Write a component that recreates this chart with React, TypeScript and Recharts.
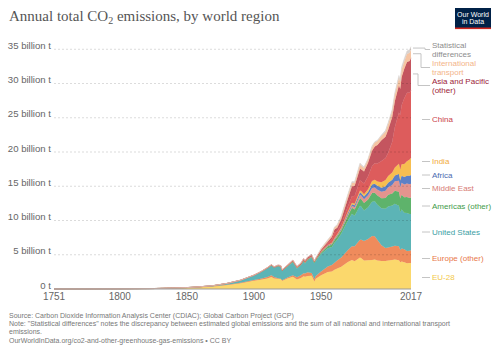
import React from 'react';
import { AreaChart, Area, XAxis, YAxis, ReferenceLine } from 'recharts';

// ---------- data (billion tonnes CO2) ----------
const years = [
  1751, 1775, 1800, 1825, 1850, 1860, 1870, 1880, 1890, 1900,
  1905, 1910, 1913, 1915, 1918, 1920, 1921, 1925, 1929, 1932,
  1935, 1937, 1938, 1940, 1943, 1945, 1946, 1950, 1955, 1958,
  1960, 1962, 1965, 1970, 1973, 1975, 1979, 1980, 1982, 1985,
  1988, 1990, 1992, 1995, 1998, 2000, 2003, 2005, 2008, 2009,
  2010, 2012, 2014, 2016, 2017,
];

const eu28 = [
  0.009, 0.015, 0.03, 0.06, 0.18, 0.28, 0.4, 0.6, 0.85, 1.2,
  1.35, 1.55, 1.75, 1.55, 1.5, 1.45, 1.2, 1.55, 1.8, 1.4,
  1.6, 1.85, 1.8, 1.9, 1.95, 1.1, 1.5, 2.0, 2.5, 2.55,
  2.8, 3.0, 3.25, 3.95, 4.25, 4.05, 4.6, 4.5, 4.15, 4.2,
  4.25, 4.3, 4.15, 4.1, 4.1, 4.15, 4.25, 4.3, 4.2, 3.9,
  4.0, 3.9, 3.75, 3.8, 3.8,
];

const europeOther = [
  0, 0, 0.001, 0.002, 0.005, 0.008, 0.015, 0.03, 0.06, 0.12,
  0.15, 0.2, 0.25, 0.2, 0.08, 0.06, 0.06, 0.12, 0.22, 0.3,
  0.4, 0.45, 0.48, 0.55, 0.4, 0.35, 0.4, 0.55, 0.8, 0.95,
  1.05, 1.15, 1.35, 1.75, 2.0, 2.2, 2.6, 2.7, 2.85, 3.1,
  3.5, 3.4, 3.0, 2.3, 1.9, 1.9, 1.95, 2.0, 2.05, 1.8,
  1.9, 1.9, 1.8, 1.8, 1.85,
];

const unitedStates = [
  0, 0.0001, 0.0003, 0.002, 0.02, 0.04, 0.08, 0.18, 0.35, 0.66,
  0.95, 1.25, 1.4, 1.35, 1.75, 1.7, 1.35, 1.6, 1.9, 1.3,
  1.45, 1.75, 1.45, 1.75, 2.2, 2.3, 2.2, 2.55, 2.65, 2.65,
  2.9, 3.05, 3.45, 4.3, 4.75, 4.45, 4.95, 4.8, 4.45, 4.65,
  5.0, 5.1, 5.15, 5.4, 5.7, 6.0, 6.0, 6.13, 5.9, 5.5,
  5.7, 5.35, 5.55, 5.35, 5.3,
];

const americasOther = [
  0, 0, 0, 0, 0.001, 0.002, 0.003, 0.006, 0.012, 0.02,
  0.03, 0.05, 0.06, 0.05, 0.055, 0.07, 0.06, 0.08, 0.11, 0.09,
  0.1, 0.12, 0.12, 0.13, 0.14, 0.16, 0.18, 0.23, 0.3, 0.35,
  0.4, 0.45, 0.5, 0.7, 0.85, 0.9, 1.1, 1.1, 1.1, 1.1,
  1.25, 1.25, 1.35, 1.45, 1.6, 1.7, 1.75, 1.9, 2.05, 2.0,
  2.15, 2.25, 2.35, 2.35, 2.4,
];

const middleEast = [
  0, 0, 0, 0, 0, 0, 0, 0, 0, 0,
  0, 0.001, 0.001, 0.002, 0.002, 0.003, 0.003, 0.004, 0.006, 0.007,
  0.008, 0.01, 0.01, 0.01, 0.012, 0.015, 0.017, 0.03, 0.05, 0.07,
  0.08, 0.1, 0.12, 0.22, 0.3, 0.35, 0.5, 0.5, 0.55, 0.65,
  0.75, 0.78, 0.85, 0.95, 1.05, 1.1, 1.25, 1.4, 1.6, 1.65,
  1.75, 1.85, 1.95, 2.0, 2.0,
];

const africa = [
  0, 0, 0, 0, 0, 0, 0.001, 0.001, 0.002, 0.004,
  0.006, 0.01, 0.012, 0.012, 0.013, 0.015, 0.014, 0.017, 0.02, 0.018,
  0.022, 0.025, 0.025, 0.028, 0.03, 0.035, 0.038, 0.05, 0.07, 0.085,
  0.1, 0.11, 0.14, 0.2, 0.24, 0.26, 0.36, 0.38, 0.42, 0.45,
  0.5, 0.55, 0.56, 0.6, 0.65, 0.68, 0.76, 0.85, 0.98, 1.0,
  1.05, 1.1, 1.15, 1.25, 1.3,
];

const india = [
  0, 0, 0, 0, 0, 0, 0.002, 0.004, 0.006, 0.01,
  0.013, 0.02, 0.023, 0.024, 0.026, 0.028, 0.027, 0.03, 0.032, 0.03,
  0.031, 0.033, 0.034, 0.036, 0.038, 0.035, 0.036, 0.05, 0.06, 0.08,
  0.11, 0.13, 0.15, 0.18, 0.2, 0.23, 0.28, 0.29, 0.33, 0.42,
  0.5, 0.57, 0.65, 0.8, 0.92, 0.97, 1.05, 1.17, 1.5, 1.6,
  1.67, 1.9, 2.1, 2.35, 2.5,
];

const china = [
  0, 0, 0, 0, 0, 0, 0, 0, 0, 0.001,
  0.002, 0.005, 0.007, 0.008, 0.009, 0.01, 0.01, 0.014, 0.02, 0.025,
  0.03, 0.04, 0.045, 0.06, 0.05, 0.03, 0.035, 0.08, 0.2, 0.5,
  0.8, 0.45, 0.5, 0.78, 0.95, 1.15, 1.5, 1.47, 1.55, 1.9,
  2.2, 2.4, 2.6, 3.1, 3.2, 3.4, 4.5, 5.9, 7.5, 7.9,
  8.6, 9.6, 10.0, 9.8, 9.9,
];

const asiaPacificOther = [
  0, 0, 0, 0, 0.001, 0.001, 0.002, 0.004, 0.01, 0.02,
  0.03, 0.05, 0.06, 0.06, 0.07, 0.08, 0.08, 0.1, 0.12, 0.12,
  0.15, 0.18, 0.18, 0.2, 0.2, 0.08, 0.1, 0.18, 0.27, 0.35,
  0.45, 0.52, 0.7, 1.15, 1.45, 1.45, 1.7, 1.7, 1.75, 1.95,
  2.25, 2.45, 2.7, 3.0, 3.1, 3.35, 3.6, 3.8, 3.95, 3.85,
  4.1, 4.3, 4.5, 4.6, 4.7,
];

const internationalTransport = [
  0, 0, 0, 0, 0, 0, 0, 0, 0, 0,
  0, 0, 0, 0, 0, 0, 0, 0, 0, 0,
  0, 0, 0, 0, 0, 0, 0, 0.17, 0.22, 0.25,
  0.28, 0.3, 0.35, 0.45, 0.5, 0.48, 0.55, 0.55, 0.5, 0.5,
  0.55, 0.6, 0.6, 0.65, 0.75, 0.85, 0.85, 0.95, 1.1, 1.05,
  1.1, 1.1, 1.15, 1.2, 1.2,
];

const statisticalDifferences = [
  0, 0, 0, 0, 0, 0, 0, 0, 0, 0,
  0, 0, 0, 0, 0, 0, 0, 0, 0, 0,
  0, 0, 0, 0, 0, 0, 0, 0.05, 0.08, 0.1,
  0.1, 0.12, 0.15, 0.18, 0.2, 0.15, 0.25, 0.2, 0.15, 0.1,
  0.15, 0.1, 0.12, 0.15, 0.2, 0.2, 0.25, 0.3, 0.35, 0.3,
  0.4, 0.4, 0.45, 0.45, 0.45,
];

const xTicks = [1751, 1800, 1850, 1900, 1950, 2017];
const yTicks = [0, 5, 10, 15, 20, 25, 30, 35];
const gridTicks = [5, 10, 15, 20, 25, 30, 35];

// ---------- series configuration ----------
const series = [
  { key: 'eu28', name: 'EU-28', values: eu28, fill: '#fbd86c', text: '#f3c94a' },
  { key: 'europeOther', name: 'Europe (other)', values: europeOther, fill: '#ef8b5c', text: '#e8774b' },
  { key: 'unitedStates', name: 'United States', values: unitedStates, fill: '#5cb4b6', text: '#3a9ea4' },
  { key: 'americasOther', name: 'Americas (other)', values: americasOther, fill: '#5eb36b', text: '#3f9b4a' },
  { key: 'middleEast', name: 'Middle East', values: middleEast, fill: '#e3948e', text: '#d77b74' },
  { key: 'africa', name: 'Africa', values: africa, fill: '#5c80c6', text: '#4a6ab0' },
  { key: 'india', name: 'India', values: india, fill: '#f7be50', text: '#f1aa3b' },
  { key: 'china', name: 'China', values: china, fill: '#dd5c5c', text: '#c9414a' },
  { key: 'asiaPacificOther', name: 'Asia and Pacific (other)', values: asiaPacificOther, fill: '#c4555f', text: '#9c2438' },
  { key: 'internationalTransport', name: 'International transport', values: internationalTransport, fill: '#f6c5a3', text: '#f3b48a' },
  { key: 'statisticalDifferences', name: 'Statistical differences', values: statisticalDifferences, fill: '#d8d2cf', text: '#8c8c8c' },
];

const data = years.map((year, i) => {
  const row: Record<string, number> = { year };
  series.forEach((s) => {
    row[s.key] = s.values[i];
  });
  return row;
});

// ---------- layout ----------
const W = 500;
const H = 353;
const MARGIN = { top: 39, right: 89, bottom: 44, left: 8 };
const Y_AXIS_W = 46;
const X_AXIS_H = 20;
const Y_MAX = 36.5;
const plotRight = W - MARGIN.right;
const plotTop = MARGIN.top;
const plotBottom = H - MARGIN.bottom - X_AXIS_H;
const yPix = (v: number) => plotBottom - (v / Y_MAX) * (plotBottom - plotTop);

// label layout (text line centres, px) for right-hand labels
const labelLayout: Record<string, { lines: string[]; ys: number[]; elbow?: number }> = {
  statisticalDifferences: { lines: ['Statistical', 'differences'], ys: [45, 54], elbow: 425 },
  internationalTransport: { lines: ['International', 'transport'], ys: [63, 72], elbow: 421 },
  asiaPacificOther: { lines: ['Asia and Pacific', '(other)'], ys: [81, 90], elbow: 418 },
  china: { lines: ['China'], ys: [119.5] },
  india: { lines: ['India'], ys: [161.5] },
  africa: { lines: ['Africa'], ys: [175] },
  middleEast: { lines: ['Middle East'], ys: [188.5] },
  americasOther: { lines: ['Americas (other)'], ys: [206] },
  unitedStates: { lines: ['United States'], ys: [232] },
  europeOther: { lines: ['Europe (other)'], ys: [258.5] },
  eu28: { lines: ['EU-28'], ys: [277.5] },
};

const footerLines = [
  'Source: Carbon Dioxide Information Analysis Center (CDIAC); Global Carbon Project (GCP)',
  'Note: "Statistical differences" notes the discrepancy between estimated global emissions and the sum of all national and international transport',
  'emissions.',
  'OurWorldInData.org/co2-and-other-greenhouse-gas-emissions \u2022 CC BY',
];

const SANS = '"Liberation Sans", Arial, sans-serif';

const fmtY = (v: number) => (v === 0 ? '0 t' : `${v} billion t`);

function YTick(props: any) {
  const { x, y, payload } = props;
  return (
    <text x={x} y={y} dy={-0.5} textAnchor="end" fontSize={9.6} fontFamily={SANS} fill="#666">
      {fmtY(payload.value)}
    </text>
  );
}

function XTick(props: any) {
  const { x, y, payload } = props;
  return (
    <text x={x} y={y} dy={9} textAnchor="middle" fontSize={10} fontFamily={SANS} fill="#666">
      {payload.value}
    </text>
  );
}

function Labels() {
  const last = years.length - 1;
  let cum = 0;
  const mids: Record<string, number> = {};
  series.forEach((s) => {
    const v = s.values[last];
    mids[s.key] = cum + v / 2;
    cum += v;
  });
  return (
    <g>
      {series.map((s) => {
        const lay = labelLayout[s.key];
        const midText = (lay.ys[0] + lay.ys[lay.ys.length - 1]) / 2;
        let path: string;
        if (lay.elbow) {
          const sy = yPix(mids[s.key]);
          path = `M${plotRight + 2},${sy} H${lay.elbow} V${midText} H430`;
        } else {
          path = `M422,${midText} H430`;
        }
        return (
          <g key={s.key}>
            <path d={path} fill="none" stroke="#c4c4c4" strokeWidth={1} />
            {lay.lines.map((ln, j) => (
              <text
                key={j}
                x={432}
                y={lay.ys[j] + 2.9}
                fontSize={8}
                fontFamily={SANS}
                fill={s.text}
              >
                {ln}
              </text>
            ))}
          </g>
        );
      })}
    </g>
  );
}

export default function App() {
  return (
    <div style={{ position: 'absolute', left: 0, top: 0, width: W, height: H, background: '#fff' }}>
      <div style={{ position: 'absolute', left: 0, top: 0 }}>
        <AreaChart width={W} height={H} data={data} margin={MARGIN}>
          <XAxis
            dataKey="year"
            type="number"
            domain={[1751, 2017]}
            ticks={xTicks}
            tickLine={false}
            tickSize={0}
            tickMargin={2}
            height={X_AXIS_H}
            axisLine={{ stroke: '#9a9a9a' }}
            tick={<XTick />}
            interval={0}
          />
          <YAxis
            type="number"
            domain={[0, Y_MAX]}
            ticks={yTicks}
            width={Y_AXIS_W}
            axisLine={false}
            tickLine={false}
            tickSize={0}
            tickMargin={3}
            interval={0}
            tick={<YTick />}
          />
          {series.map((s) => (
            <Area
              key={s.key}
              dataKey={s.key}
              name={s.name}
              stackId="1"
              type="linear"
              fill={s.fill}
              fillOpacity={1}
              stroke={s.fill}
              strokeWidth={0.5}
              dot={false}
              activeDot={false}
              isAnimationActive={false}
            />
          ))}
          {gridTicks.map((t) => (
            <ReferenceLine
              key={t}
              y={t}
              stroke="#000"
              strokeOpacity={0.14}
              strokeDasharray="2 2"
              strokeWidth={1}
            />
          ))}
        </AreaChart>
      </div>
      <svg
        width={W}
        height={H}
        style={{ position: 'absolute', left: 0, top: 0, pointerEvents: 'none' }}
      >
        <text x={9} y={20.5} fontSize={15} fontFamily='"Liberation Serif", "Times New Roman", serif' fill="#555">
          Annual total CO
          <tspan fontSize={10} dy={3}>2</tspan>
          <tspan dy={-3}> emissions, by world region</tspan>
        </text>
        <rect x={455} y={8} width={36} height={21} fill="#002147" />
        <rect x={455} y={27.5} width={36} height={1.6} fill="#ce261e" />
        <text x={473} y={16.8} fontSize={7} fontFamily={SANS} fill="#fff" textAnchor="middle">
          Our World
        </text>
        <text x={473} y={24.3} fontSize={7} fontFamily={SANS} fill="#fff" textAnchor="middle">
          in Data
        </text>
        <Labels />
        {footerLines.map((ln, i) => (
          <text key={i} x={9} y={317.5 + i * 8.4} fontSize={7} fontFamily={SANS} fill="#777">
            {ln}
          </text>
        ))}
      </svg>
    </div>
  );
}
